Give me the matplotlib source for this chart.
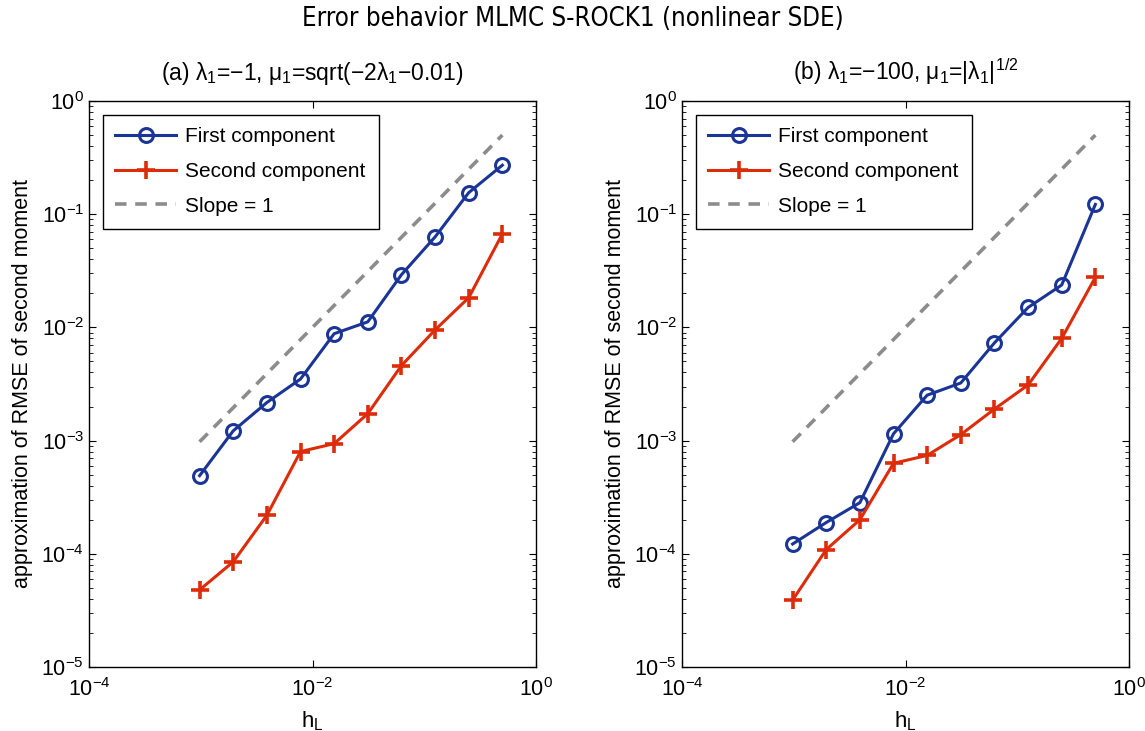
import matplotlib
matplotlib.use("Agg")
import matplotlib.pyplot as plt
import numpy as np
from matplotlib.ticker import LogLocator, NullLocator

plt.rcParams['font.family'] = ['Liberation Sans', 'DejaVu Sans']
plt.rcParams['mathtext.fontset'] = 'custom'
plt.rcParams['mathtext.rm'] = 'Liberation Sans'
plt.rcParams['mathtext.it'] = 'Liberation Sans'
plt.rcParams['mathtext.sf'] = 'Liberation Sans'

# ---- data ----
h = [2.0 ** -k for k in range(10, 0, -1)]
first_a = [4.9e-4, 1.22e-3, 2.17e-3, 3.5e-3, 8.8e-3, 1.12e-2, 2.92e-2, 6.3e-2, 0.155, 0.271]
second_a = [4.8e-5, 8.5e-5, 2.19e-4, 8.0e-4, 9.4e-4, 1.73e-3, 4.6e-3, 9.5e-3, 1.83e-2, 6.7e-2]
first_b = [1.22e-4, 1.89e-4, 2.83e-4, 1.15e-3, 2.52e-3, 3.23e-3, 7.3e-3, 1.5e-2, 2.37e-2, 0.122]
second_b = [3.9e-5, 1.09e-4, 2.0e-4, 6.3e-4, 7.4e-4, 1.13e-3, 1.9e-3, 3.1e-3, 8.0e-3, 2.77e-2]
slope_ref = h

titles = [r'(a) $\lambda_1$=$-$1, $\mu_1$=sqrt($-$2$\lambda_1$$-$0.01)',
          r'(b) $\lambda_1$=$-$100, $\mu_1$=|$\lambda_1$|$^{1/2}$']
suptitle = 'Error behavior MLMC S-ROCK1 (nonlinear SDE)'
legend_labels = ['First component', 'Second component', 'Slope = 1']
xlabel = r'$\mathregular{h_L}$'
ylabel = 'approximation of RMSE of second moment'

blue = '#1b3596'
red = '#dd2c0a'
gray = '#8c8c8c'

fig = plt.figure(figsize=(11.45, 7.31), dpi=100)
W, H = 1145, 731
axes_px = [(89, 536), (682, 1129)]
top, bottom = 101, 667

panels = [(first_a, second_a), (first_b, second_b)]
for i, ((x0, x1), (f, s)) in enumerate(zip(axes_px, panels)):
    ax = fig.add_axes([x0 / W, (H - bottom) / H, (x1 - x0) / W, (bottom - top) / H])
    ax.set_xscale('log')
    ax.set_yscale('log')
    ax.plot(h, f, '-o', color=blue, lw=2.2, ms=10, mfc='none', mew=2.2, label=legend_labels[0])
    ax.plot(h, s, '-+', color=red, lw=2.2, ms=13, mew=2.6, label=legend_labels[1])
    ax.plot(h, slope_ref, '--', color=gray, lw=2.6, dashes=(3.2, 2.4), label=legend_labels[2])
    ax.set_xlim(1e-4, 1)
    ax.set_ylim(1e-5, 1)
    ax.set_xticks([1e-4, 1e-2, 1])
    ax.xaxis.set_minor_locator(NullLocator())
    ax.yaxis.set_major_locator(LogLocator(base=10, numticks=10))
    ax.yaxis.set_minor_locator(LogLocator(base=10, subs=np.arange(2, 10), numticks=20))
    ax.tick_params(which='both', direction='in', top=True, right=True, labelsize=15.5)
    ax.tick_params(which='major', length=5, width=0.8)
    ax.tick_params(which='minor', length=3, width=0.6)
    ax.tick_params(axis='x', pad=8)
    for sp in ax.spines.values():
        sp.set_linewidth(1.0)
    ax.set_xlabel(xlabel, fontsize=16, labelpad=6)
    ax.set_ylabel(ylabel, fontsize=15.5, labelpad=6)
    ax.set_title(titles[i], fontsize=16.5, pad=15)
    leg = ax.legend(loc='upper left', fontsize=15, handlelength=2.9, borderaxespad=0.65,
                    fancybox=False, edgecolor='black', framealpha=1, labelspacing=0.75,
                    borderpad=0.62, handletextpad=0.45)
    leg.get_frame().set_linewidth(1.0)

fig.text(0.5, 1 - 19 / H, suptitle, ha='center', va='center', fontsize=18.5,
         family='DejaVu Sans', fontstretch='condensed')

fig.savefig('out.png', dpi=100)
